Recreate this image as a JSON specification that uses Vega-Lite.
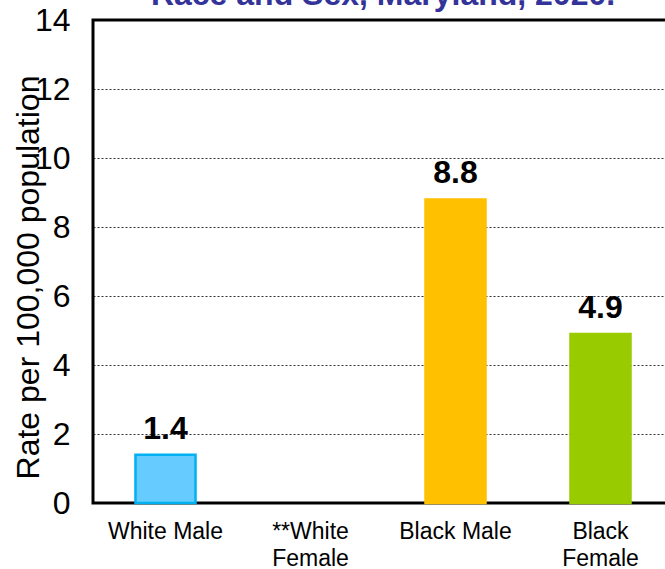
{
  "$schema": "https://vega.github.io/schema/vega-lite/v6.json",
  "autosize": "none",
  "padding": {"left": 93, "top": 20, "right": 0, "bottom": 66},
  "width": 580,
  "height": 483,
  "background": "white",
  "config": {
    "view": {"stroke": "black", "strokeWidth": 3},
    "font": "Liberation Sans"
  },
  "title": {
    "text": "Race and Sex, Maryland, 2020.",
    "anchor": "middle",
    "frame": "group",
    "fontSize": 32,
    "fontWeight": "bold",
    "color": "#333399",
    "font": "Liberation Sans",
    "baseline": "alphabetic",
    "offset": 0,
    "dy": 33
  },
  "data": {
    "values": [
      {"group": "White Male", "rate": 1.4},
      {"group": "**White Female", "rate": null},
      {"group": "Black Male", "rate": 8.8},
      {"group": "Black Female", "rate": 4.9}
    ]
  },
  "encoding": {
    "x": {
      "field": "group",
      "type": "nominal",
      "sort": null,
      "scale": {
        "domain": ["White Male", "**White Female", "Black Male", "Black Female"],
        "paddingInner": 0.586,
        "paddingOuter": 0.293
      },
      "axis": {
        "title": null,
        "labelAngle": 0,
        "labelFontSize": 23,
        "labelColor": "black",
        "labelPadding": 17,
        "labelLineHeight": 27,
        "labelBaseline": "top",
        "labelExpr": "(datum.value == 'White Male' || datum.value == 'Black Male') ? datum.value : split(datum.value, ' ')",
        "ticks": false,
        "domain": false
      }
    },
    "y": {
      "field": "rate",
      "type": "quantitative",
      "scale": {"domain": [0, 14], "nice": false},
      "axis": {
        "title": "Rate per 100,000 population",
        "titleFontSize": 32,
        "titleFontWeight": "normal",
        "titleColor": "black",
        "titleAngle": -90,
        "titleX": -65,
        "titleY": 257,
        "titleAlign": "center",
        "titleBaseline": "middle",
        "values": [0, 2, 4, 6, 8, 10, 12, 14],
        "labelFontSize": 32,
        "labelColor": "black",
        "labelPadding": 23,
        "ticks": false,
        "domain": false,
        "grid": true,
        "gridColor": "black",
        "gridDash": [2, 2],
        "gridWidth": 1,
        "gridOpacity": 0.8
      }
    }
  },
  "layer": [
    {
      "mark": {"type": "bar", "strokeWidth": 2.5},
      "encoding": {
        "color": {
          "field": "group",
          "type": "nominal",
          "scale": {
            "domain": ["White Male", "**White Female", "Black Male", "Black Female"],
            "range": ["#66CCFF", "#FFFFFF", "#FFC000", "#99CC00"]
          },
          "legend": null
        },
        "stroke": {
          "field": "group",
          "type": "nominal",
          "scale": {
            "domain": ["White Male", "**White Female", "Black Male", "Black Female"],
            "range": ["#00B0F0", "#FFFFFF", "#FFC000", "#99CC00"]
          },
          "legend": null
        }
      }
    },
    {
      "mark": {"type": "text", "fontSize": 32, "fontWeight": "bold", "color": "black", "baseline": "alphabetic", "dy": -16},
      "encoding": {
        "text": {"field": "rate", "type": "quantitative", "format": ".1f"}
      }
    }
  ]
}
